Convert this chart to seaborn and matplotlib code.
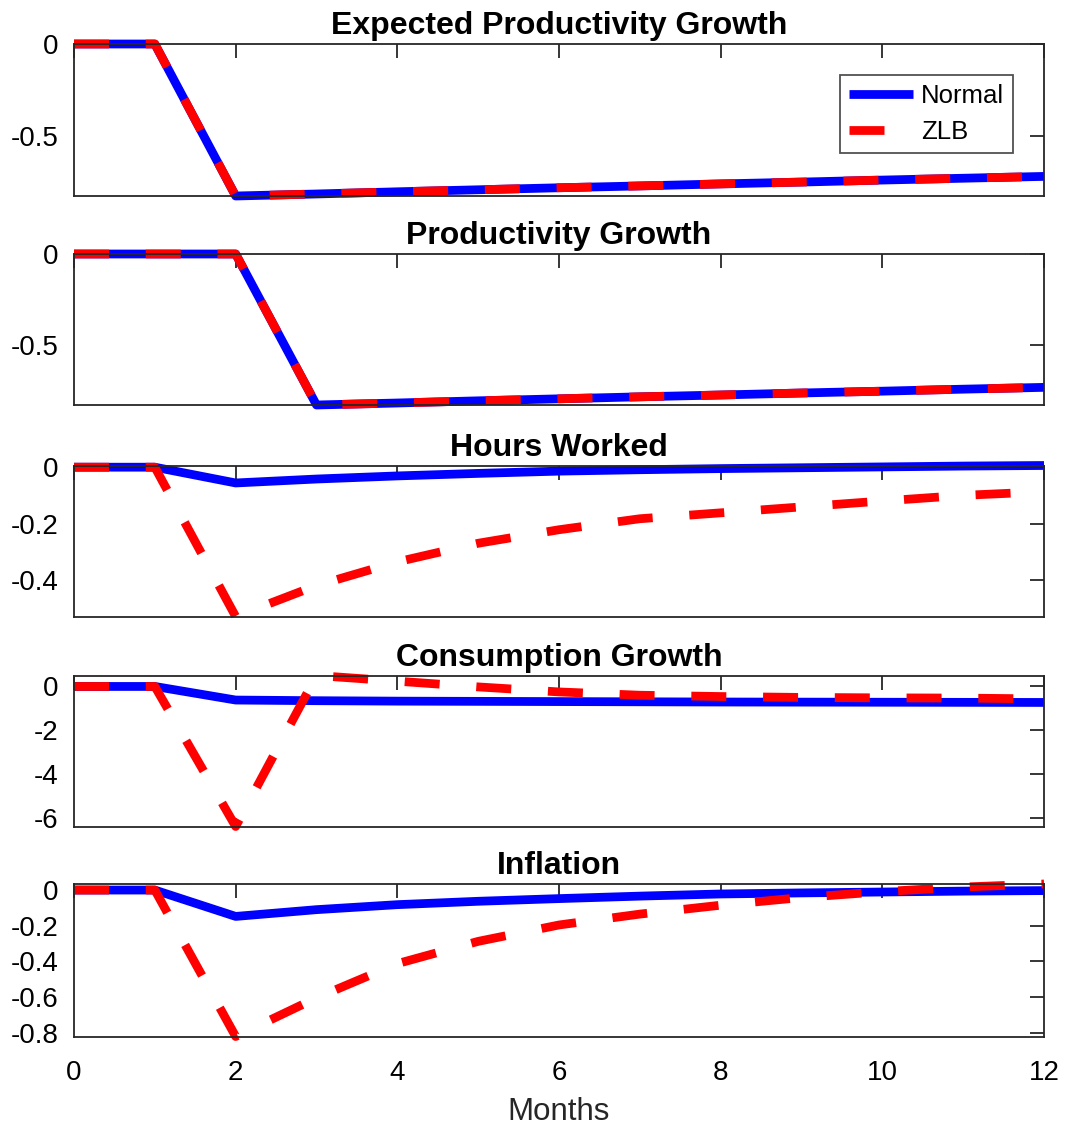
import matplotlib
matplotlib.use("Agg")
import matplotlib.pyplot as plt
import seaborn as sns

# Impulse responses, months after the shock
months = [0, 1, 2, 3, 4, 5, 6, 7, 8, 9, 10, 11, 12]

exp_prod_normal = [0, 0, -0.830, -0.819, -0.807, -0.796, -0.785, -0.775, -0.764, -0.754, -0.743, -0.733, -0.723]
exp_prod_zlb = [0, 0, -0.830, -0.819, -0.807, -0.796, -0.785, -0.775, -0.764, -0.754, -0.743, -0.733, -0.723]

prod_normal = [0, 0, 0, -0.830, -0.819, -0.807, -0.796, -0.785, -0.775, -0.764, -0.754, -0.743, -0.733]
prod_zlb = [0, 0, 0, -0.830, -0.819, -0.807, -0.796, -0.785, -0.775, -0.764, -0.754, -0.743, -0.733]

hours_normal = [0, 0, -0.056, -0.042, -0.031, -0.022, -0.014, -0.009, -0.005, -0.002, 0.001, 0.004, 0.006]
hours_zlb = [0, 0, -0.530, -0.420, -0.336, -0.270, -0.222, -0.183, -0.162, -0.141, -0.120, -0.100, -0.087]

cons_normal = [0, 0, -0.62, -0.65, -0.67, -0.68, -0.69, -0.70, -0.71, -0.715, -0.72, -0.725, -0.73]
cons_zlb = [0, 0, -6.39, 0.50, 0.24, -0.02, -0.25, -0.40, -0.46, -0.50, -0.52, -0.53, -0.57]

infl_normal = [0, 0, -0.148, -0.110, -0.082, -0.063, -0.048, -0.034, -0.022, -0.016, -0.011, -0.006, -0.003]
infl_zlb = [0, 0, -0.822, -0.605, -0.413, -0.288, -0.196, -0.135, -0.085, -0.042, -0.009, 0.017, 0.034]

titles = ["Expected Productivity Growth", "Productivity Growth", "Hours Worked",
          "Consumption Growth", "Inflation"]
yticks = [[-0.5, 0], [-0.5, 0], [-0.4, -0.2, 0], [-6, -4, -2, 0],
          [-0.8, -0.6, -0.4, -0.2, 0]]
xticks = [0, 2, 4, 6, 8, 10, 12]
series_labels = ["Normal", "ZLB"]

panels = [
    (exp_prod_normal, exp_prod_zlb),
    (prod_normal, prod_zlb),
    (hours_normal, hours_zlb),
    (cons_normal, cons_zlb),
    (infl_normal, infl_zlb),
]

sns.set_style("white")
plt.rcParams["font.family"] = ["Liberation Sans", "DejaVu Sans"]
plt.rcParams["axes.unicode_minus"] = False

W, H = 1065, 1128
fig = plt.figure(figsize=(W / 100, H / 100), dpi=100)

# axes boxes in pixels (top, bottom)
boxes = [(44, 196), (254, 405), (465.5, 616.5), (675.5, 826.5), (884, 1036.5)]
left_px, right_px = 74, 1044
axis_col = "#262626"
lw = 6.3

for i, ((normal, zlb), title, yt, (top, bot)) in enumerate(zip(panels, titles, yticks, boxes)):
    ax = fig.add_axes([left_px / W, 1 - bot / H, (right_px - left_px) / W, (bot - top) / H])
    sns.lineplot(x=months, y=normal, ax=ax, color="#0000ff", linewidth=lw,
                 label=series_labels[0] if i == 0 else None, legend=False,
                 clip_on=False)
    sns.lineplot(x=months, y=zlb, ax=ax, color="#ff0000", linewidth=lw,
                 label=series_labels[1] if i == 0 else None, legend=False,
                 clip_on=False)
    ax.lines[-1].set_dashes((4.0, 4.2))
    ax.lines[-1].set_dash_capstyle("butt")
    ax.lines[-2].set_solid_capstyle("butt")

    lo = min(min(normal), min(zlb))
    hi = max(max(normal), max(zlb))
    ax.set_xlim(0, 12)
    ax.set_ylim(lo, hi)
    ax.set_xticks(xticks)
    ax.set_yticks(yt)
    ax.yaxis.set_major_formatter(matplotlib.ticker.FormatStrFormatter("%g"))
    ax.tick_params(direction="in", length=10, width=1.3, top=True, right=True,
                   colors=axis_col, labelcolor="black", labelsize=20)
    ax.tick_params(axis="y", pad=11)
    ax.tick_params(axis="x", pad=17)
    for s in ax.spines.values():
        s.set_color(axis_col)
        s.set_linewidth(1.3)
    ax.set_title(title, fontsize=23, fontweight="bold", pad=7, color="black")
    ax.set_ylabel("")
    if i < 4:
        ax.set_xticklabels([])
    else:
        ax.set_xlabel("Months", fontsize=22.5, labelpad=8, color="#262626")
    if i == 0:
        leg = ax.legend(loc="upper right", bbox_to_anchor=(0.968, 0.796),
                        fontsize=18.5, handlelength=2.5, handletextpad=0.3,
                        borderpad=0.35, labelspacing=0.45, frameon=True,
                        fancybox=False, borderaxespad=0)
        leg.get_frame().set_edgecolor(axis_col)
        leg.get_frame().set_linewidth(1.3)
        for t in leg.get_texts():
            t.set_color("black")

fig.savefig("out.png", dpi=100)
